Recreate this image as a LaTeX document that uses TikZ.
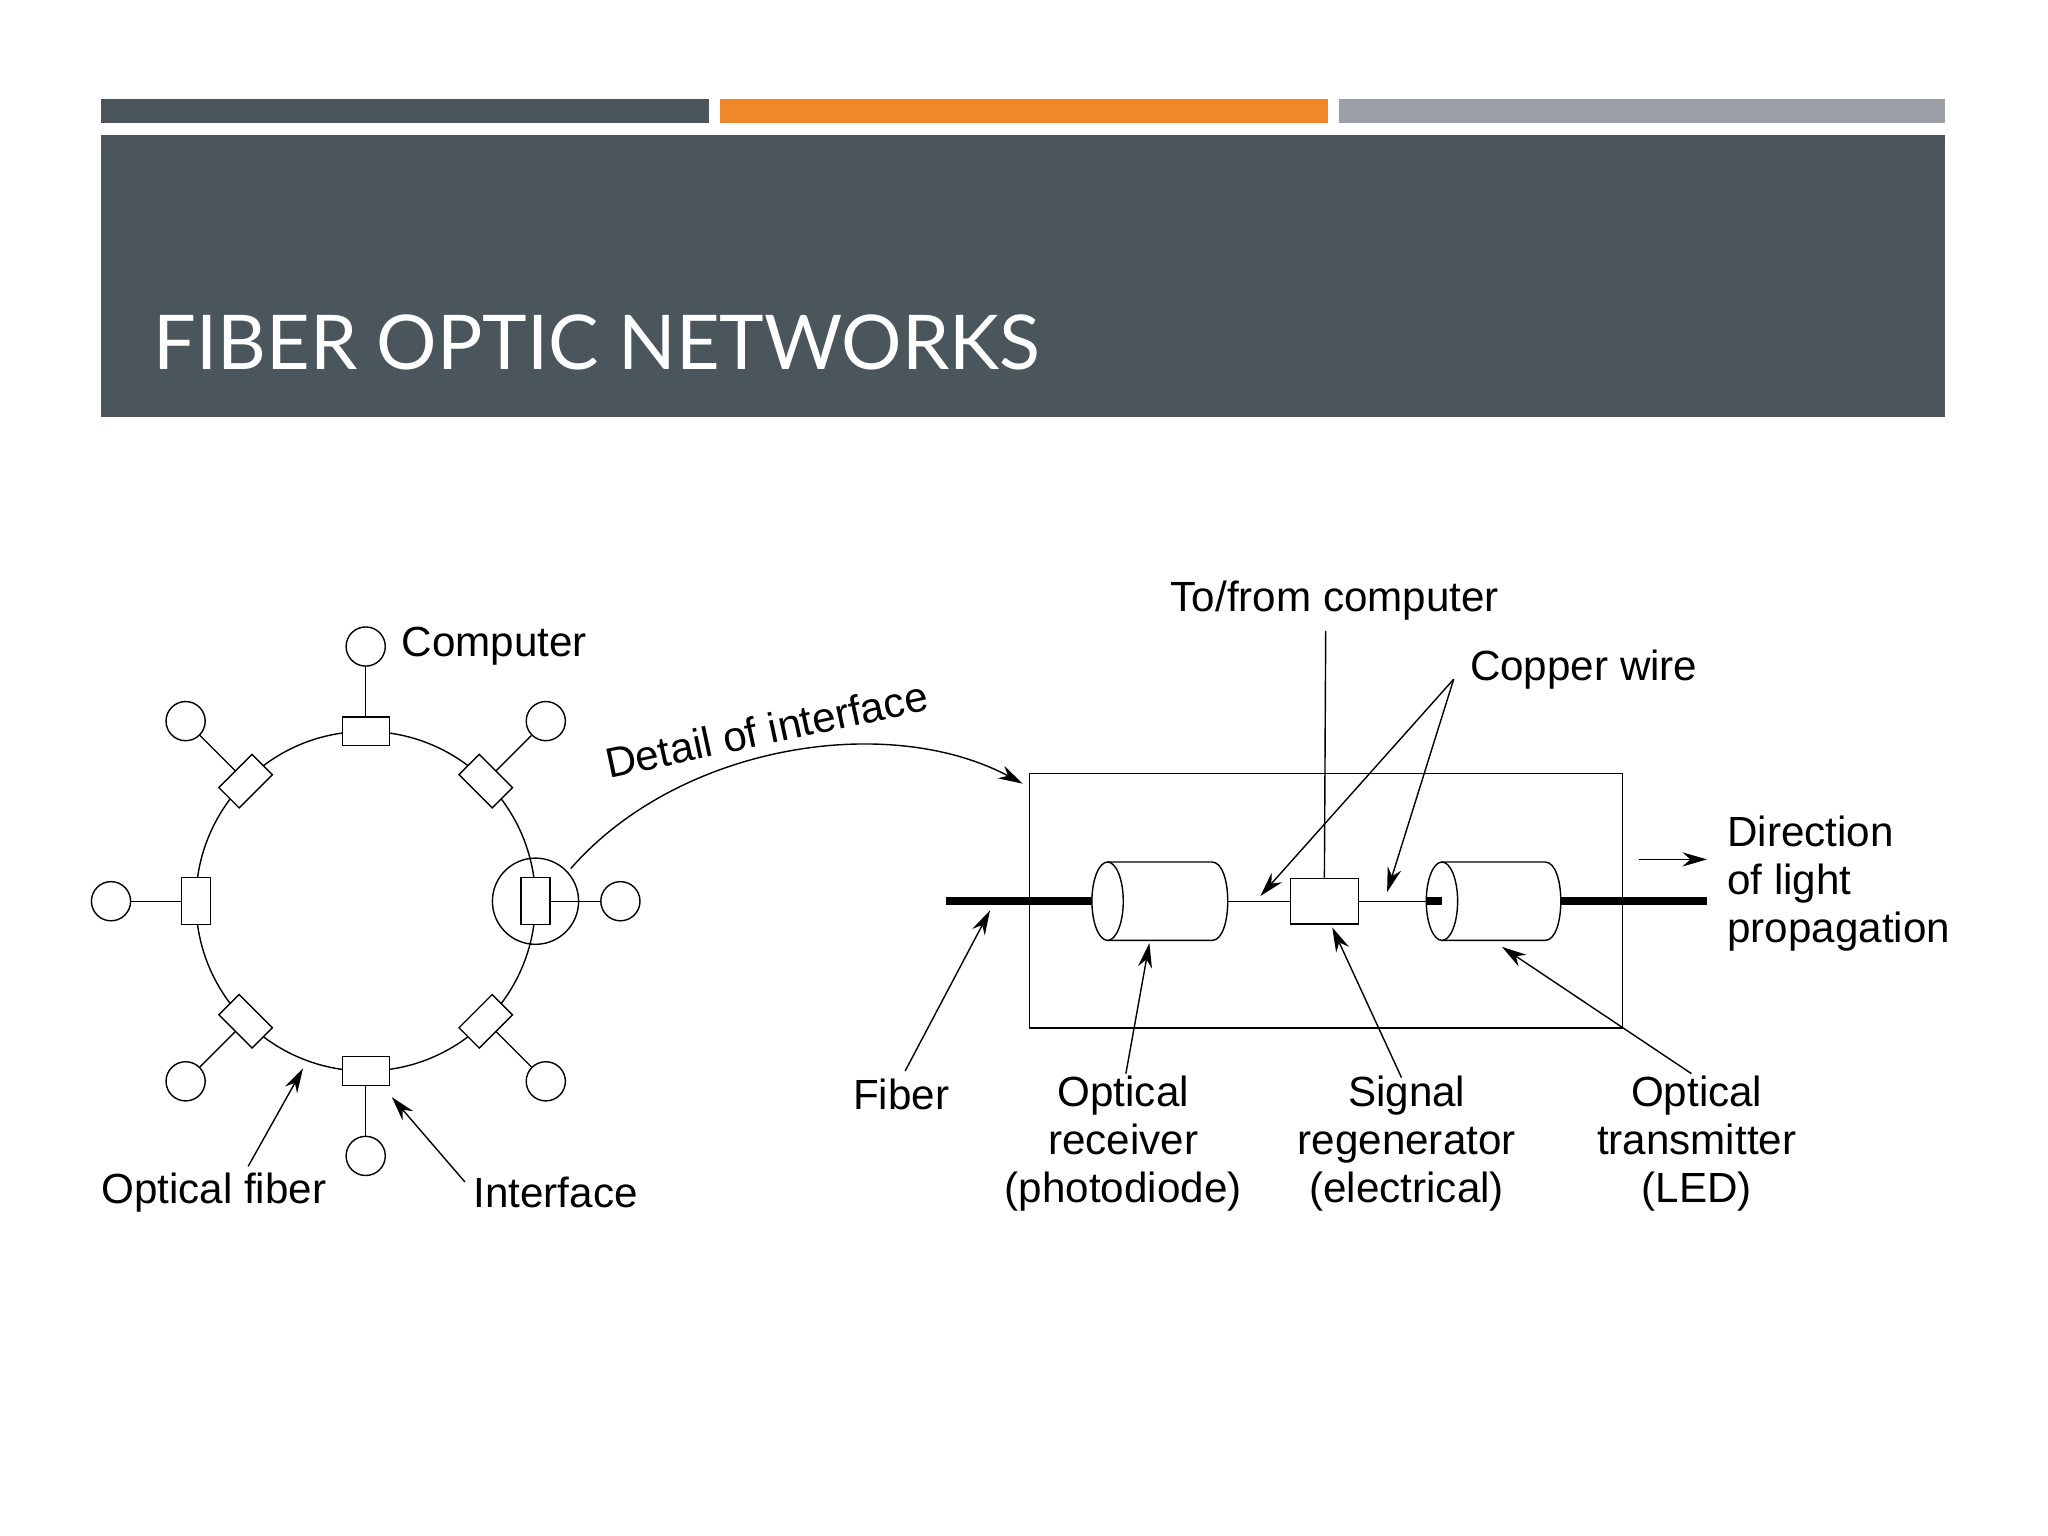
\documentclass[tikz,border=0pt]{standalone}
\usepackage{fontspec}
\setmainfont{Liberation Sans}
\newfontfamily\titlefont{Lato}
\usetikzlibrary{arrows.meta}
\definecolor{slate}{HTML}{4A555C}
\definecolor{orng}{HTML}{F0882A}
\definecolor{lgray}{HTML}{9AA0A6}
\begin{document}
\begin{tikzpicture}[x=0.01306cm,y=-0.01306cm,
  lbl/.style={font=\fontsize{12}{13.7}\selectfont,inner sep=0pt,align=center},
  arr/.style={-{Stealth[length=7pt,width=4pt]},thin},
  comp/.style={circle,draw,thin,fill=white,minimum size=30*0.01306cm,inner sep=0pt},
  iface/.style={draw,thin,fill=white,inner sep=0pt,minimum width=36*0.01306cm,minimum height=22*0.01306cm},
  fib/.style={line width=2.2pt}]
\useasboundingbox (0,0) rectangle (1568,1176);
\fill[white] (0,0) rectangle (1568,1176);
\fill[slate] (77,76) rectangle (543,94);
\fill[orng] (551,76) rectangle (1017,94);
\fill[lgray] (1025,76) rectangle (1489,94);
\fill[slate] (77,103) rectangle (1489,319);
\node[anchor=base west,text=white,inner sep=0pt,font=\titlefont\fontsize{21.5}{26}\selectfont] (title) at (117,283) {FIBER OPTIC NETWORKS};
% ring
\coordinate (c) at (280,690);
\draw[thin] (c) circle (130);
\foreach \a/\n in {90/t,270/b,180/l,0/r,45/tr,135/tl,225/bl,315/br}{
  \path (c) ++(\a:195 and -195) node[comp] (k\n) {};
  \path (c) ++(\a:130 and -130) coordinate (p\n);
  \draw[thin] (p\n) -- (k\n);
  \pgfmathsetmacro\rot{\a-90}
  \node[iface,rotate=\rot] (f\n) at (p\n) {};
}
\draw[thin] (pr) circle (33);
\node[lbl,anchor=west] (lcomp) at (307,495) {Computer};
\node[lbl,anchor=west] (lof) at (77,913) {Optical fiber};
\node[lbl,anchor=west] (lif) at (362,913) {Interface};
\coordinate (aof) at (232,818);
\coordinate (aif) at (300,840);
\draw[arr] (190,893) -- (aof);
\draw[arr] (356,905) -- (aif);
% detail arrow
\coordinate (d1) at (437,665);
\coordinate (d2) at (783,600);
\draw[arr] (d1) .. controls (520,570) and (680,545) .. (d2)
  node[pos=0.47,sloped,above,lbl,inner sep=3pt] {Detail of interface};
% box
\draw[thin] (788,592) rectangle (1242,787);
\draw[fib] (724,690) -- (848,690);
\draw[fib] (1195,690) -- (1307,690);
\draw[thin,fill=white] (848,660) -- (928,660) .. controls (944,660) and (944,720) .. (928,720) -- (848,720) -- cycle;
\draw[thin,fill=white] (848,690) ellipse (12 and 30);
\draw[thin,fill=white] (1104,660) -- (1183,660) .. controls (1199,660) and (1199,720) .. (1183,720) -- (1104,720) -- cycle;
\draw[thin,fill=white] (1104,690) ellipse (12 and 30);
\node[draw,thin,fill=white,minimum width=52*0.01306cm,minimum height=35*0.01306cm,inner sep=0pt] (reg) at (1014,690) {};
\draw[thin] (940,690) -- (reg.west);
\draw[thin] (reg.east) -- (1092,690);
\draw[fib] (1092,690) -- (1104,690);
\draw[thin] (reg.north) -- (1015,483);
\node[lbl] (tfc) at (1022,460) {To/from computer};
\node[lbl,anchor=west] (cw) at (1125,513) {Copper wire};
\draw[arr] (1113,520) -- (965,686);
\draw[arr] (1113,520) -- (1062,683);
\node[lbl,anchor=north west,align=left] (dir) at (1322,624) {Direction\\of light\\propagation};
\draw[arr] (1255,658) -- (1307,658);
\node[lbl] (lfib) at (690,838) {Fiber};
\node[lbl,anchor=north] (lrec) at (860,823) {Optical\\receiver\\(photodiode)};
\node[lbl,anchor=north] (lreg) at (1077,823) {Signal\\regenerator\\(electrical)};
\node[lbl,anchor=north] (ltx) at (1299,823) {Optical\\transmitter\\(LED)};
\draw[arr] (693,820) -- (758,697);
\draw[arr] (862,822) -- (880,722);
\draw[arr] (1073,825) -- (1020,710);
\draw[arr] (1295,822) -- (1150,725);
\end{tikzpicture}
\end{document}
